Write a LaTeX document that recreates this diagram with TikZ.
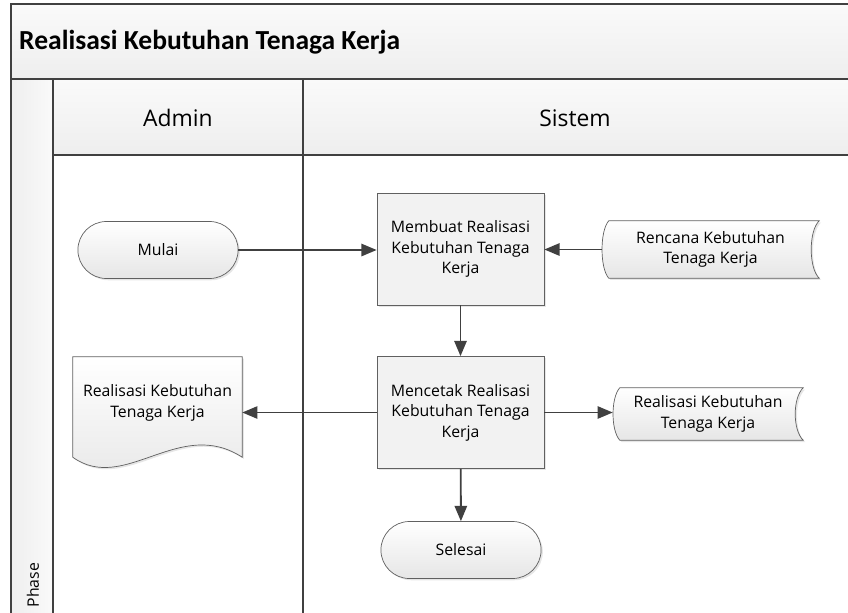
\documentclass[tikz,border=0pt]{standalone}
\usepackage{fontspec}
\setmainfont{Open Sans}
\newfontfamily\carlito{Carlito}
\usetikzlibrary{arrows.meta,calc,shapes.misc,shadows,backgrounds}
\definecolor{bingkai}{HTML}{404040}
\definecolor{tepi}{HTML}{606060}
\definecolor{isian}{HTML}{F2F2F2}
\definecolor{isianbawah}{HTML}{E6E6E6}
\definecolor{pitaatas}{HTML}{FAFAFA}
\definecolor{pitabawah}{HTML}{EEEEEE}
\newcommand{\isi}{\fontsize{13.5}{17.5}\selectfont}

\begin{document}
\begin{tikzpicture}[x=0.03cm, y=-0.03cm,
    lajur/.style={draw=bingkai, line width=1.3pt},
    proses/.style={draw=tepi, line width=0.6pt, fill=isian, minimum width=167*0.03cm, minimum height=112*0.03cm, align=center, font=\isi, drop shadow={shadow xshift=1.5pt, shadow yshift=-1.5pt, opacity=0.2}},
    terminal/.style={rounded rectangle, draw=tepi, line width=0.6pt, top color=white, bottom color=isianbawah, minimum width=168*0.03cm, minimum height=57*0.03cm, font=\isi, drop shadow={shadow xshift=1.5pt, shadow yshift=-1.5pt, opacity=0.2}},
    teks/.style={align=center, font=\isi},
    bentuk/.style={draw=tepi, line width=0.6pt, top color=white, bottom color=isianbawah, drop shadow={shadow xshift=1.5pt, shadow yshift=-1.5pt, opacity=0.2}},
    panah/.style={draw=bingkai, line width=1.6pt, -{Triangle[length=13pt, width=10.5pt]}}
]
    \useasboundingbox (0,0) rectangle (848,612);

    % --- swimlane ---
    \begin{pgfonlayer}{background}
        \draw[lajur, top color=pitaatas, bottom color=pitabawah] (11,4) rectangle (852,79);
        \draw[lajur, top color=pitaatas, bottom color=pitabawah] (53,79) rectangle (852,155);
        \draw[lajur, left color=pitabawah, right color=pitaatas] (11,79) rectangle (53,616);
        \draw[lajur] (303,79) -- (303,616);
    \end{pgfonlayer}
    \node[font=\carlito\bfseries\fontsize{23.5}{28}\selectfont, anchor=west, inner sep=0pt] (judul) at (19,42) {Realisasi Kebutuhan Tenaga Kerja};
    \node[font=\fontsize{19.5}{24}\selectfont] (admin) at (178,118) {Admin};
    \node[font=\fontsize{19.5}{24}\selectfont] (sistem) at (575,118) {Sistem};
    \node[font=\isi, rotate=90] (fase) at (33,585) {Phase};

    % --- alur ---
    \node[terminal] (mulai) at (158,250) {Mulai};
    \node[proses] (buat) at (460.5,249) {Membuat Realisasi\\Kebutuhan Tenaga\\Kerja};
    \node[teks, minimum width=217*0.03cm, minimum height=57*0.03cm] (rencana) at (710.5,249.5) {Rencana Kebutuhan\\Tenaga Kerja};
    \node[proses] (cetak) at (460.5,412.5) {Mencetak Realisasi\\Kebutuhan Tenaga\\Kerja};
    \node[teks, minimum width=169*0.03cm, minimum height=92*0.03cm] (dok) at (157.5,403) {Realisasi Kebutuhan\\Tenaga Kerja};
    \node[teks, minimum width=190*0.03cm, minimum height=52*0.03cm] (simpan) at (708,414) {Realisasi Kebutuhan\\Tenaga Kerja};
    \node[terminal] (selesai) at (461,550) {Selesai};

    \begin{pgfonlayer}{background}
        \draw[bentuk] ($(rencana.north west)+(7,0)$) -- (rencana.north east) .. controls ($(rencana.north east)+(-10.7,10)$) and ($(rencana.south east)+(-10.7,-10)$) .. (rencana.south east) -- ($(rencana.south west)+(7,0)$) .. controls ($(rencana.south west)+(-2,-10)$) and ($(rencana.north west)+(-2,10)$) .. ($(rencana.north west)+(7,0)$) -- cycle;
        \draw[bentuk] ($(simpan.north west)+(7,0)$) -- (simpan.north east) .. controls ($(simpan.north east)+(-10.7,10)$) and ($(simpan.south east)+(-10.7,-10)$) .. (simpan.south east) -- ($(simpan.south west)+(7,0)$) .. controls ($(simpan.south west)+(-2,-10)$) and ($(simpan.north west)+(-2,10)$) .. ($(simpan.north west)+(7,0)$) -- cycle;
        \draw[bentuk] (dok.north west) -- (dok.north east) -- ($(dok.south east)+(0,8)$) .. controls ($(dok.south east)+(-63,-33)$) and ($(dok.south west)+(52,45)$) .. ($(dok.south west)+(0,8)$) -- cycle;
    \end{pgfonlayer}

    \draw[panah] (mulai.east) -- (mulai.east -| buat.west);
    \draw[panah] (rencana.west) -- (rencana.west -| buat.east);
    \draw[panah] (buat) -- (cetak);
    \draw[panah] (cetak.west) -- (cetak.west -| dok.east);
    \draw[panah] (cetak.east) -- (cetak.east -| simpan.west);
    \draw[panah] (cetak) -- (selesai);
\end{tikzpicture}
\end{document}
